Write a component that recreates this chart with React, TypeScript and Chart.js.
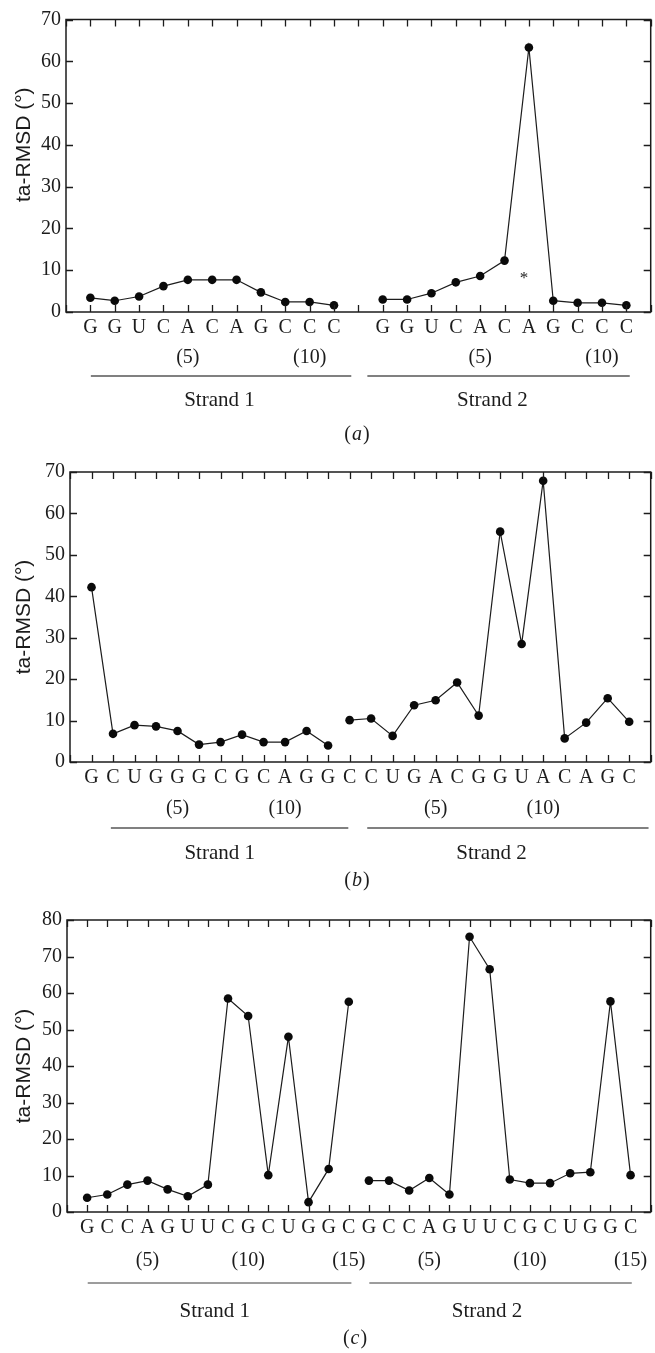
import React, { useEffect, useRef } from 'react';
import { Chart, registerables } from 'chart.js';

Chart.register(...registerables);

// ---------------- Data: panel (a) ----------------
const aStrand1Seq = ['G', 'G', 'U', 'C', 'A', 'C', 'A', 'G', 'C', 'C', 'C'];
const aStrand2Seq = ['G', 'G', 'U', 'C', 'A', 'C', 'A', 'G', 'C', 'C', 'C'];
const aStrand1Vals = [3.4, 2.7, 3.7, 6.2, 7.7, 7.7, 7.7, 4.7, 2.4, 2.4, 1.6];
const aStrand2Vals = [3.0, 3.0, 4.5, 7.1, 8.6, 12.3, 63.3, 2.7, 2.2, 2.2, 1.6];
const aStrandStarts = [1, 13];
const aNumberingStart = 1;
const aYTicks = [0, 10, 20, 30, 40, 50, 60, 70];
const aMarks = [{ x: 18.8, y: 8.0, text: '*' }];

// ---------------- Data: panel (b) ----------------
const bStrand1Seq = ['G', 'C', 'U', 'G', 'G', 'G', 'C', 'G', 'C', 'A', 'G', 'G'];
const bStrand2Seq = ['C', 'C', 'U', 'G', 'A', 'C', 'G', 'G', 'U', 'A', 'C', 'A', 'G', 'C'];
const bStrand1Vals = [42.2, 6.8, 8.9, 8.6, 7.5, 4.2, 4.8, 6.6, 4.8, 4.8, 7.5, 4.0];
const bStrand2Vals = [10.1, 10.5, 6.3, 13.7, 14.9, 19.2, 11.2, 55.6, 28.5, 67.9, 5.7, 9.5, 15.4, 9.7];
const bStrandStarts = [1, 13];
const bNumberingStart = 1;
const bYTicks = [0, 10, 20, 30, 40, 50, 60, 70];

// ---------------- Data: panel (c) ----------------
const cStrand1Seq = ['G', 'C', 'C', 'A', 'G', 'U', 'U', 'C', 'G', 'C', 'U', 'G', 'G', 'C'];
const cStrand2Seq = ['G', 'C', 'C', 'A', 'G', 'U', 'U', 'C', 'G', 'C', 'U', 'G', 'G', 'C'];
const cStrand1Vals = [3.9, 4.8, 7.5, 8.6, 6.2, 4.3, 7.5, 58.5, 53.7, 10.1, 48.0, 2.7, 11.8, 57.6];
const cStrand2Vals = [8.6, 8.6, 5.9, 9.3, 4.8, 75.4, 66.5, 8.9, 7.9, 7.9, 10.6, 10.9, 57.7, 10.1];
const cStrandStarts = [1, 15];
const cNumberingStart = 2;
const cYTicks = [0, 10, 20, 30, 40, 50, 60, 70, 80];

const numberedResidues = [5, 10, 15];
const strandNames = ['Strand 1', 'Strand 2'];
const yTitle = 'ta-RMSD (°)';

// ---------------- Helpers ----------------
const SERIF = '"Liberation Serif", "DejaVu Serif", serif';
const SANS = '"Liberation Sans", Arial, sans-serif';
const INK = '#1c1c1c';

function buildLabels(seqs: string[][], starts: number[], numStart: number) {
  const m = new Map<number, string[]>();
  seqs.forEach((seq, si) => {
    seq.forEach((letter, i) => {
      const resNum = numStart + i;
      const num = numberedResidues.includes(resNum) ? `(${resNum})` : '';
      m.set(starts[si] + i, [letter, num]);
    });
  });
  return m;
}

function toPoints(vals: number[], start: number) {
  return vals.map((v, i) => ({ x: start + i, y: v }));
}

type PanelCfg = {
  height: number;
  top: number;
  left: number;
  bottomSpace: number;
  xMax: number;
  yTicks: number[];
  seqs: string[][];
  vals: number[][];
  starts: number[];
  numStart: number;
  lineHeight: number;
  labelPad: number;
  strandSpans: number[][];
  strandLabelAt: number[];
  strandLineOffset: number;
  strandLineColor: string;
  strandLineWidth: number;
  strandLabelOffset: number;
  caption: string;
  captionX: number;
  captionOffset: number;
  titleShift: number;
  marks?: { x: number; y: number; text: string }[];
};

const panels: PanelCfg[] = [
  {
    height: 450, top: 19.5, left: 66, bottomSpace: 138, xMax: 24,
    yTicks: aYTicks, seqs: [aStrand1Seq, aStrand2Seq], vals: [aStrand1Vals, aStrand2Vals],
    starts: aStrandStarts, numStart: aNumberingStart, lineHeight: 1.5, labelPad: 1,
    strandSpans: [[1.02, 11.71], [12.37, 23.14]], strandLabelAt: [6.3, 17.5],
    strandLineOffset: 64, strandLineColor: '#808080', strandLineWidth: 2, strandLabelOffset: 88,
    caption: 'a', captionX: 357, captionOffset: 123, titleShift: -21, marks: aMarks,
  },
  {
    height: 445, top: 22, left: 70, bottomSpace: 133, xMax: 27,
    yTicks: bYTicks, seqs: [bStrand1Seq, bStrand2Seq], vals: [bStrand1Vals, bStrand2Vals],
    starts: bStrandStarts, numStart: bNumberingStart, lineHeight: 1.52, labelPad: 1,
    strandSpans: [[1.9, 12.94], [13.82, 26.9]], strandLabelAt: [6.96, 19.6],
    strandLineOffset: 66, strandLineColor: '#808080', strandLineWidth: 2, strandLabelOffset: 91,
    caption: 'b', captionX: 357, captionOffset: 119, titleShift: 0,
  },
  {
    height: 458, top: 25, left: 67, bottomSpace: 141, xMax: 29,
    yTicks: cYTicks, seqs: [cStrand1Seq, cStrand2Seq], vals: [cStrand1Vals, cStrand2Vals],
    starts: cStrandStarts, numStart: cNumberingStart, lineHeight: 1.62, labelPad: 0,
    strandSpans: [[1.03, 14.13], [15.02, 28.06]], strandLabelAt: [7.34, 20.87],
    strandLineOffset: 71, strandLineColor: '#3a3a3a', strandLineWidth: 1, strandLabelOffset: 99,
    caption: 'c', captionX: 355, captionOffset: 127, titleShift: 0,
  },
];

function makeDecor(cfg: PanelCfg) {
  return {
    id: 'decor' + cfg.caption,
    afterDraw(chart: any) {
      const { ctx, chartArea: ca, scales } = chart;
      const xs = scales.x;
      const ys = scales.y;
      ctx.save();
      // frame
      ctx.strokeStyle = INK;
      ctx.lineWidth = 1.5;
      ctx.strokeRect(ca.left, ca.top, ca.right - ca.left, ca.bottom - ca.top);
      // inward ticks
      const tl = 7;
      ctx.lineWidth = 1.3;
      ctx.beginPath();
      xs.ticks.forEach((t: any) => {
        const px = Math.round(xs.getPixelForValue(t.value)) + 0.5;
        ctx.moveTo(px, ca.bottom); ctx.lineTo(px, ca.bottom - tl);
        ctx.moveTo(px, ca.top); ctx.lineTo(px, ca.top + tl);
      });
      ys.ticks.forEach((t: any) => {
        const py = Math.round(ys.getPixelForValue(t.value)) + 0.5;
        ctx.moveTo(ca.left, py); ctx.lineTo(ca.left + tl, py);
        ctx.moveTo(ca.right, py); ctx.lineTo(ca.right - tl, py);
      });
      ctx.stroke();
      // strand lines
      ctx.strokeStyle = cfg.strandLineColor;
      ctx.lineWidth = cfg.strandLineWidth;
      cfg.strandSpans.forEach(([a, b]) => {
        const y = ca.bottom + cfg.strandLineOffset;
        ctx.beginPath();
        ctx.moveTo(xs.getPixelForValue(a), y);
        ctx.lineTo(xs.getPixelForValue(b), y);
        ctx.stroke();
      });
      // strand labels
      ctx.fillStyle = INK;
      ctx.font = `21px ${SERIF}`;
      ctx.textAlign = 'center';
      ctx.textBaseline = 'middle';
      strandNames.forEach((name, i) => {
        ctx.fillText(name, xs.getPixelForValue(cfg.strandLabelAt[i]), ca.bottom + cfg.strandLabelOffset);
      });
      // caption
      const cy = ca.bottom + cfg.captionOffset;
      const open = '(';
      const close = ')';
      ctx.font = `italic 20px ${SERIF}`;
      const wl = ctx.measureText(cfg.caption).width;
      ctx.font = `20px ${SERIF}`;
      const wo = ctx.measureText(open).width;
      const wc = ctx.measureText(close).width;
      const total = wo + wl + wc + 2;
      let cx = cfg.captionX - total / 2;
      ctx.textAlign = 'left';
      ctx.fillText(open, cx, cy); cx += wo + 1;
      ctx.font = `italic 20px ${SERIF}`;
      ctx.fillText(cfg.caption, cx, cy); cx += wl + 1;
      ctx.font = `20px ${SERIF}`;
      ctx.fillText(close, cx, cy);
      // y title
      ctx.save();
      ctx.font = `21px ${SANS}`;
      ctx.textAlign = 'center';
      ctx.textBaseline = 'middle';
      ctx.translate(24, (ca.top + ca.bottom) / 2 + cfg.titleShift);
      ctx.rotate(-Math.PI / 2);
      ctx.fillText(yTitle, 0, 0);
      ctx.restore();
      // marks
      (cfg.marks || []).forEach((m) => {
        ctx.font = `17px ${SERIF}`;
        ctx.textAlign = 'center';
        ctx.textBaseline = 'middle';
        ctx.fillText(m.text, xs.getPixelForValue(m.x), ys.getPixelForValue(m.y));
      });
      ctx.restore();
    },
  };
}

function Panel({ cfg }: { cfg: PanelCfg }) {
  const ref = useRef<HTMLCanvasElement>(null);
  useEffect(() => {
    const labels = buildLabels(cfg.seqs, cfg.starts, cfg.numStart);
    const yMax = cfg.yTicks[cfg.yTicks.length - 1];
    const chart = new Chart(ref.current as HTMLCanvasElement, {
      type: 'line',
      data: {
        datasets: cfg.vals.map((v, i) => ({
          label: strandNames[i],
          data: toPoints(v, cfg.starts[i]),
          borderColor: INK,
          borderWidth: 1.2,
          pointRadius: 4.3,
          pointBackgroundColor: '#0a0a0a',
          pointBorderWidth: 0,
          pointHoverRadius: 4.3,
          tension: 0,
          clip: false as any,
        })),
      },
      options: {
        animation: false,
        responsive: false,
        maintainAspectRatio: false,
        events: [],
        layout: { padding: { top: cfg.top, right: 3, left: 0, bottom: 0 } },
        plugins: { legend: { display: false }, tooltip: { enabled: false } },
        scales: {
          x: {
            type: 'linear',
            min: 0,
            max: cfg.xMax,
            grid: { display: false, drawTicks: false },
            border: { display: false },
            ticks: {
              stepSize: 1,
              autoSkip: false,
              maxRotation: 0,
              minRotation: 0,
              padding: cfg.labelPad,
              color: INK,
              font: { family: SERIF, size: 20, lineHeight: cfg.lineHeight },
              callback: (value: any) => labels.get(Number(value)) ?? ['', ''],
            },
            afterFit: (scale: any) => { scale.height = cfg.bottomSpace; },
          },
          y: {
            type: 'linear',
            min: 0,
            max: yMax,
            grid: { display: false, drawTicks: false },
            border: { display: false },
            ticks: {
              stepSize: 10,
              padding: 5,
              color: INK,
              font: { family: SERIF, size: 20 },
            },
            afterFit: (scale: any) => { scale.width = cfg.left; },
          },
        },
      },
      plugins: [makeDecor(cfg)],
    } as any);
    return () => chart.destroy();
  }, [cfg]);
  return (
    <div style={{ width: 655, height: cfg.height }}>
      <canvas ref={ref} width={655} height={cfg.height} style={{ display: 'block', width: 655, height: cfg.height }} />
    </div>
  );
}

export default function App() {
  return (
    <div style={{ position: 'absolute', top: 0, left: 0, width: 655, height: 1353, background: '#fff' }}>
      {panels.map((p) => (
        <Panel key={p.caption} cfg={p} />
      ))}
    </div>
  );
}
